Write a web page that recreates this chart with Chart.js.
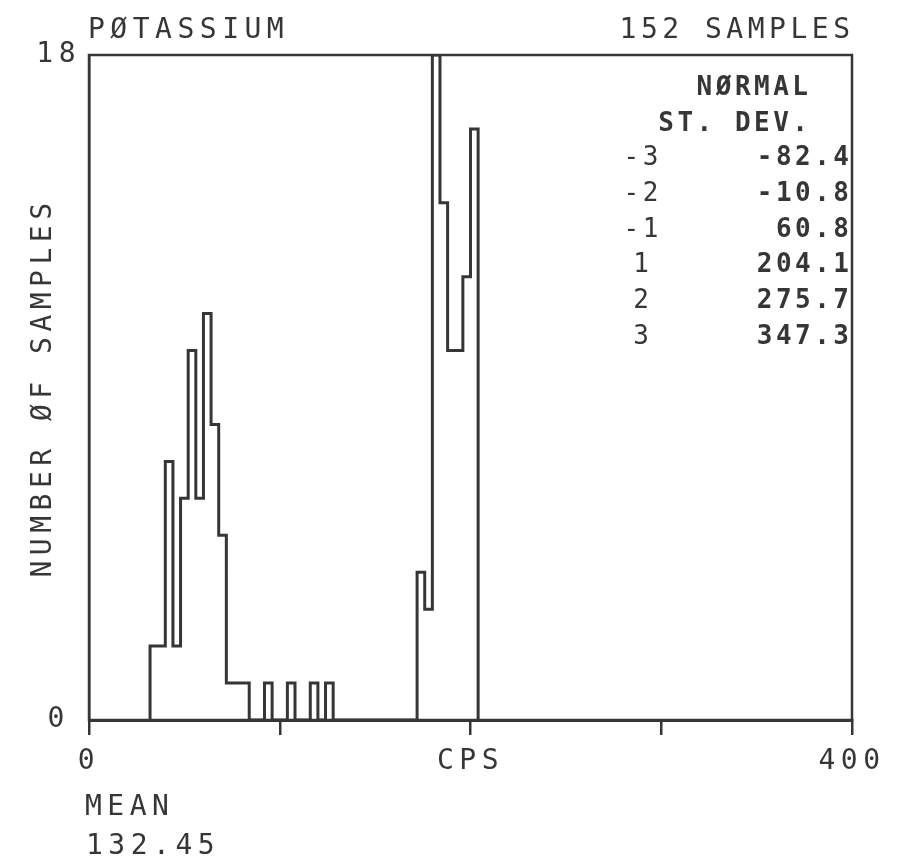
<!DOCTYPE html>
<html>
<head>
<meta charset="utf-8">
<script src="https://cdn.jsdelivr.net/npm/chart.js@4.4.0/dist/chart.umd.min.js"></script>
<style>
  html, body { margin: 0; padding: 0; background: #fff; }
  canvas { display: block; }
</style>
</head>
<body>
<canvas id="histChart" width="915" height="863"></canvas>
<script>
// histogram bins are 4 CPS wide; only the non-empty ones are listed (left edge, CPS)
var binWidth = 4;
var binStarts = [32, 36, 40, 44, 48, 52, 56, 60, 64, 68, 72, 76, 80, 92, 104, 116, 124,
                 172, 176, 180, 184, 188, 192, 196, 200];
var binCounts = [2, 2, 7, 2, 6, 10, 6, 11, 8, 5, 1, 1, 1, 1, 1, 1, 1,
                 4, 3, 18, 14, 10, 10, 12, 16];

var xTickLabels = ['0', '', 'CPS', '', '400'];
var yTickLabels = ['0', '18'];

var sdSteps = ['-3', '-2', '-1', '1', '2', '3'];
var sdValues = ['-82.4', '-10.8', '60.8', '204.1', '275.7', '347.3'];
var meanValue = '132.45';
var sampleCount = 152;

var FONT = '"DejaVu Sans Mono", "Liberation Mono", monospace';
var INK = '#363636';

// step outline points: up/down at each bin edge, back to 0 across empty bins
var counts = {};
binStarts.forEach(function (s, i) { counts[s] = binCounts[i]; });
var first = binStarts[0], last = binStarts[binStarts.length - 1];
var outline = [{x: first, y: 0}];
for (var s = first; s <= last; s += binWidth) {
  outline.push({x: s, y: counts[s] || 0});
}
outline.push({x: last + binWidth, y: 0});

function spaced(ctx, px) { ctx.letterSpacing = px + 'px'; }

var plotterText = {
  id: 'plotterText',
  beforeUpdate: function (chart) { spaced(chart.ctx, 5.5); },
  beforeDraw: function (chart) { spaced(chart.ctx, 5.5); },
  afterDraw: function (chart) {
    var c = chart.ctx, a = chart.chartArea;
    c.save();
    // frame round the plot
    c.strokeStyle = INK;
    c.lineWidth = 2.5;
    c.strokeRect(a.left, a.top, a.right - a.left, a.bottom - a.top);

    c.fillStyle = INK;
    c.textBaseline = 'alphabetic';
    c.font = '28px ' + FONT;
    spaced(c, 5.5);
    c.textAlign = 'left';
    c.fillText('PØTASSIUM', 88, 38);
    spaced(c, 4.5);
    c.textAlign = 'right';
    c.fillText(sampleCount + ' SAMPLES', 850 + 4.5, 38);

    spaced(c, 5.5);
    c.textAlign = 'left';
    c.fillText('MEAN', 85, 815);
    c.fillText(meanValue, 86, 854);

    // normal distribution table
    spaced(c, 3.5);
    c.font = 'bold 26px ' + FONT;
    c.textAlign = 'right';
    c.fillText('NØRMAL', 808 + 3.5, 95);
    c.fillText('ST. DEV.', 808 + 3.5, 131);
    for (var i = 0; i < sdValues.length; i++) {
      var y = 165 + i * 35.8;
      c.font = 'bold 26px ' + FONT;
      c.textAlign = 'right';
      c.fillText(sdValues[i], 849 + 3.5, y);
      c.font = '26px ' + FONT;
      c.textAlign = 'center';
      c.fillText(sdSteps[i], 641 + 1.75, y);
    }
    c.restore();
  }
};

var ctx = document.getElementById('histChart').getContext('2d');
var histChart = new Chart(ctx, {
  type: 'line',
  data: {
    datasets: [{
      data: outline,
      stepped: 'before',
      borderColor: INK,
      borderWidth: 3,
      pointRadius: 0,
      fill: false
    }]
  },
  options: {
    responsive: false,
    animation: false,
    events: [],
    layout: { padding: { left: 0, right: 63, top: 55, bottom: 0 } },
    plugins: {
      legend: { display: false },
      tooltip: { enabled: false }
    },
    scales: {
      x: {
        type: 'linear',
        min: 0,
        max: 400,
        ticks: {
          stepSize: 100,
          autoSkip: false,
          maxRotation: 0,
          padding: 10,
          color: INK,
          font: { family: FONT, size: 28 },
          callback: function (v, i) { return xTickLabels[i]; }
        },
        grid: { drawOnChartArea: false, tickLength: 15, color: INK, lineWidth: 2.5 },
        border: { display: true, color: INK, width: 3 },
        afterFit: function (scale) { scale.height = 143; }
      },
      y: {
        min: 0,
        max: 18,
        ticks: {
          stepSize: 18,
          padding: 0,
          crossAlign: 'center',
          color: INK,
          font: { family: FONT, size: 28 },
          callback: function (v, i) { return yTickLabels[i]; }
        },
        grid: { display: false },
        border: { display: true, color: INK, width: 2.5 },
        title: {
          display: true,
          text: 'NUMBER ØF SAMPLES',
          color: INK,
          font: { family: FONT, size: 28 },
          padding: { top: 27, bottom: 0 }
        },
        afterFit: function (scale) { scale.width = 89; }
      }
    }
  },
  plugins: [plotterText]
});
</script>
</body>
</html>
